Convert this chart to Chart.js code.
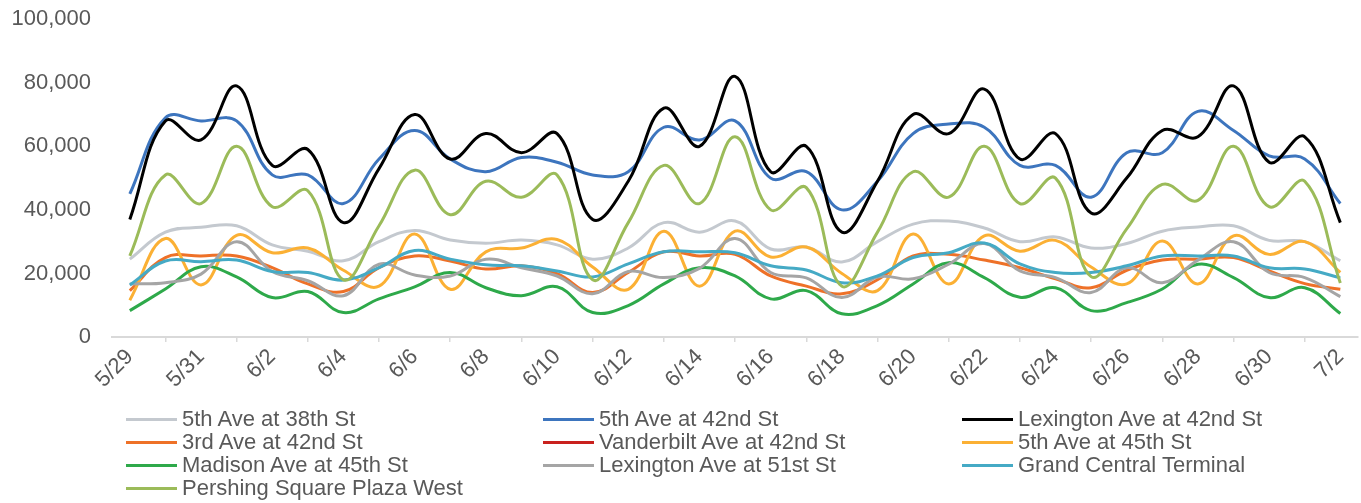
<!DOCTYPE html>
<html>
<head>
<meta charset="utf-8">
<script src="https://cdn.jsdelivr.net/npm/chart.js@4.4.1/dist/chart.umd.min.js"></script>
<style>
  html, body { margin: 0; padding: 0; background: #fff; overflow: hidden; }
  #wrap { position: relative; width: 1361px; height: 503px; overflow: hidden; }
  #chartbox { position: absolute; left: 0; top: -7px; width: 1361px; height: 510px; }
  #legend { position: absolute; left: 0; top: 0; width: 1361px; height: 503px; pointer-events: none;
            font: 22px "Liberation Sans", Arial, sans-serif; color: #595959; }
  .item { position: absolute; display: flex; align-items: center; height: 24px; white-space: nowrap; }
  .item i { display: inline-block; width: 51px; height: 3px; margin-right: 5px; }
</style>
</head>
<body>
<div id="wrap">
  <div id="chartbox"><canvas id="chart"></canvas></div>
  <div id="legend"></div>
</div>
<script>
const dates = ['5/29', '5/30', '5/31', '6/1', '6/2', '6/3', '6/4', '6/5', '6/6', '6/7', '6/8', '6/9',
  '6/10', '6/11', '6/12', '6/13', '6/14', '6/15', '6/16', '6/17', '6/18', '6/19', '6/20', '6/21',
  '6/22', '6/23', '6/24', '6/25', '6/26', '6/27', '6/28', '6/29', '6/30', '7/1', '7/2'];

const fifth38 = [24500, 33000, 34500, 35000, 29000, 27000, 24000, 30000, 33500, 30500, 29500, 30500,
  29000, 24500, 28000, 36000, 33000, 36500, 27700, 28300, 23600, 30000, 35500, 36500,
  34300, 30000, 31500, 28000, 29400, 33300, 34600, 35000, 30400, 30000, 24000];
const fifth42 = [45000, 69000, 68000, 68000, 51000, 51000, 42000, 56000, 65000, 56000, 52000, 56500,
  55000, 51000, 52000, 66000, 62000, 68000, 50000, 52000, 40000, 49000, 64000, 67000,
  66000, 54000, 54000, 44000, 58000, 58000, 71000, 65000, 57000, 56000, 42000];
const lex42 = [37000, 68000, 62000, 79000, 54000, 59000, 36000, 53000, 70000, 56000, 64000, 58000,
  64000, 37000, 49000, 72000, 60000, 82000, 52000, 60000, 33000, 49000, 70000, 64000,
  78000, 56000, 64000, 39000, 50000, 65000, 63000, 79000, 55000, 63000, 36000];
const third42 = [14600, 25000, 25500, 25500, 21800, 16700, 14300, 21800, 25500, 23900, 21400, 22400,
  19900, 14000, 20300, 26800, 25500, 26000, 19200, 16000, 13600, 18000, 25500, 26000,
  24200, 21800, 18300, 15500, 21000, 24200, 24500, 25000, 20800, 16800, 15000];
const vanderbilt42 = [];
const fifth45 = [11600, 31000, 16400, 32000, 26500, 28000, 21000, 16000, 32400, 15000, 26800, 28000,
  30700, 22000, 15000, 33300, 16000, 33300, 25200, 28300, 20000, 14600, 32400, 16700,
  31800, 27000, 30400, 22000, 16700, 30200, 16700, 31800, 26000, 30000, 20300];
const madison45 = [8300, 15100, 22100, 18900, 12400, 14300, 7700, 12000, 15800, 20300, 15500, 13000,
  15800, 7700, 9900, 16700, 21800, 19200, 12000, 14600, 7300, 9900, 16700, 23400,
  18700, 12500, 15500, 8300, 10800, 15100, 22900, 18700, 12400, 15500, 7400];
const lex51 = [16700, 17100, 19800, 30000, 20600, 17700, 13000, 22900, 19500, 19200, 24500, 21800,
  19200, 13600, 20600, 18700, 21600, 31000, 20300, 18600, 12400, 18900, 18300, 22900,
  29400, 20800, 18700, 14000, 21800, 17100, 24200, 30000, 20300, 18700, 12700];
const grandCentral = [16400, 23900, 23700, 24200, 20600, 20300, 17900, 21800, 27200, 24500, 22700, 22400,
  20800, 18900, 23000, 26800, 26800, 26500, 22400, 21100, 17100, 19200, 25000, 26500,
  29600, 23000, 20300, 20300, 22400, 25500, 25500, 25500, 21800, 21400, 18600];
const pershing = [25500, 51000, 42000, 60000, 41000, 46000, 18000, 35000, 52500, 38500, 49000, 44000,
  51000, 18000, 36000, 54000, 42000, 63000, 40000, 47000, 16000, 33000, 52000, 44000,
  60000, 42000, 50000, 19000, 34000, 48000, 43000, 60000, 41000, 49000, 17000];

const series = [
  { label: '5th Ave at 38th St', data: fifth38, color: '#C4C9CF' },
  { label: '5th Ave at 42nd St', data: fifth42, color: '#3D75BE' },
  { label: 'Lexington Ave at 42nd St', data: lex42, color: '#000000' },
  { label: '3rd Ave at 42nd St', data: third42, color: '#EE7128' },
  { label: 'Vanderbilt Ave at 42nd St', data: vanderbilt42, color: '#C9211E' },
  { label: '5th Ave at 45th St', data: fifth45, color: '#FBB034' },
  { label: 'Madison Ave at 45th St', data: madison45, color: '#2EA94A' },
  { label: 'Lexington Ave at 51st St', data: lex51, color: '#A5A5A5' },
  { label: 'Grand Central Terminal', data: grandCentral, color: '#45AAC5' },
  { label: 'Pershing Square Plaza West', data: pershing, color: '#9BBB59' }
];

const FONT = '"Liberation Sans", Arial, sans-serif';
const TEXT = '#595959';

// legend: 3 columns like the excel one
const legend = document.getElementById('legend');
const colX = [126, 543, 962];
const rowY = [419, 442, 465, 488];
series.forEach((s, i) => {
  const el = document.createElement('div');
  el.className = 'item';
  el.style.left = colX[i % 3] + 'px';
  el.style.top = (rowY[Math.floor(i / 3)] - 12) + 'px';
  el.innerHTML = `<i style="background:${s.color}"></i><span>${s.label}</span>`;
  legend.appendChild(el);
});

new Chart(document.getElementById('chart'), {
  type: 'line',
  data: {
    labels: dates,
    datasets: series.map((s, i) => ({
      label: s.label,
      data: s.data,
      borderColor: s.color,
      backgroundColor: s.color,
      borderWidth: 3,
      pointRadius: 0,
      tension: 0.4,
      fill: false,
      order: series.length - i
    }))
  },
  options: {
    responsive: true,
    maintainAspectRatio: false,
    animation: false,
    layout: { padding: { top: 1, left: 0, right: 0, bottom: 106 } },
    plugins: { legend: { display: false }, tooltip: { enabled: false } },
    scales: {
      x: {
        offset: true,
        afterFit: (scale) => { scale.height = 60; },
        grid: { offset: true, drawOnChartArea: false, drawTicks: true, tickLength: 5, color: '#D9D9D9', lineWidth: 1.5 },
        border: { color: '#D9D9D9', width: 2 },
        ticks: {
          autoSkip: false,
          maxRotation: 45,
          minRotation: 45,
          padding: 2,
          color: TEXT,
          font: { family: FONT, size: 22 },
          callback: (v, i) => (i % 2 === 0 ? dates[i] : null)
        }
      },
      y: {
        min: 0,
        max: 100000,
        afterFit: (scale) => { scale.width = 112; },
        grid: { display: false },
        border: { display: false },
        ticks: {
          stepSize: 20000,
          padding: 13,
          color: TEXT,
          font: { family: FONT, size: 22 },
          callback: (v) => v.toLocaleString('en-US')
        }
      }
    }
  }
});
</script>
</body>
</html>
